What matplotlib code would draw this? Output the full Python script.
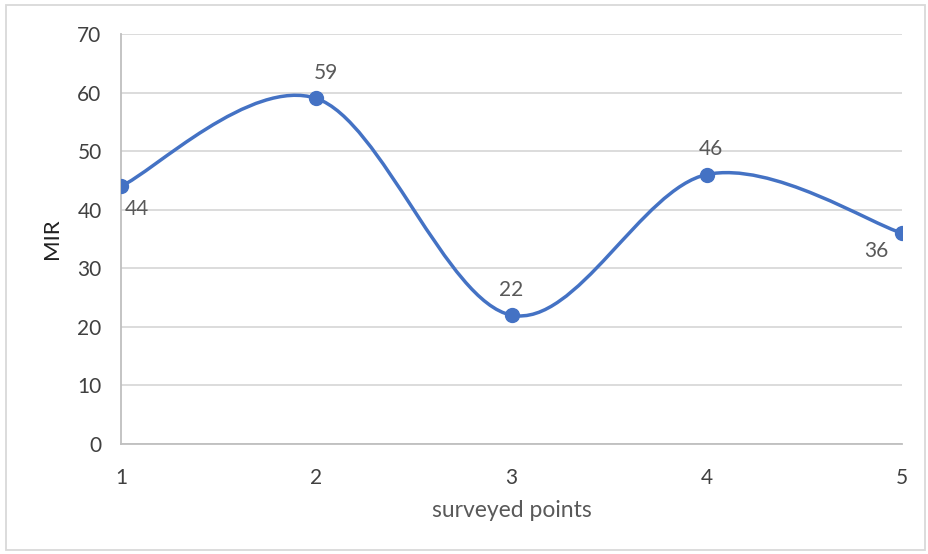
import numpy as np
import matplotlib
matplotlib.use("Agg")
import matplotlib.pyplot as plt
from matplotlib.path import Path
from matplotlib.patches import PathPatch, Rectangle

# --- данные ---
points = [1, 2, 3, 4, 5]
mir = [44, 59, 22, 46, 36]
yticks = [0, 10, 20, 30, 40, 50, 60, 70]

line_col = "#4472C4"
text_col = "#595959"

plt.rcParams["font.family"] = ["Lato", "DejaVu Sans"]

fig = plt.figure(figsize=(9.29, 5.54), dpi=100)
ax = fig.add_axes([121 / 929, 1 - 444 / 554, (902 - 121) / 929, (444 - 34) / 554])

# сглаженная линия как в Excel (Безье с коэффициентом 1/6)
x = np.array(points, dtype=float)
y = np.array(mir, dtype=float)
n = len(x)
verts = [(x[0], y[0])]
codes = [Path.MOVETO]
for i in range(n - 1):
    p0 = np.array([x[max(i - 1, 0)], y[max(i - 1, 0)]])
    p1 = np.array([x[i], y[i]])
    p2 = np.array([x[i + 1], y[i + 1]])
    p3 = np.array([x[min(i + 2, n - 1)], y[min(i + 2, n - 1)]])
    c1 = p1 + (p2 - p0) / 6
    c2 = p2 - (p3 - p1) / 6
    verts += [tuple(c1), tuple(c2), tuple(p2)]
    codes += [Path.CURVE4] * 3
ax.add_patch(PathPatch(Path(verts, codes), fill=False, edgecolor=line_col, lw=2.5,
                       capstyle="round", zorder=3))
ax.plot(points, mir, "o", color=line_col, ms=10, zorder=4)

# подписи значений: смещение в пунктах и выравнивание
label_style = [((3, -9), "left", "top"),
               ((7, 11), "center", "bottom"),
               ((0, 11), "center", "bottom"),
               ((3, 11), "center", "bottom"),
               ((-10, -6), "right", "top")]
for xi, yi, (off, ha, va) in zip(points, mir, label_style):
    ax.annotate(str(yi), (xi, yi), xytext=off, textcoords="offset points",
                ha=ha, va=va, fontsize=15, color=text_col)

ax.set_xlim(1, 5)
ax.set_ylim(0, 70)
ax.set_xticks(points)
ax.set_yticks(yticks)
ax.tick_params(length=0, labelsize=15, labelcolor="#404040")
ax.tick_params(axis="x", pad=17)
ax.tick_params(axis="y", pad=14)
ax.grid(axis="y", color="#D9D9D9", lw=1.3)
ax.set_axisbelow(True)
for s in ["top", "right"]:
    ax.spines[s].set_visible(False)
for s in ["left", "bottom"]:
    ax.spines[s].set_color("#BFBFBF")
    ax.spines[s].set_linewidth(1.3)

ax.set_xlabel("surveyed points", fontsize=16.5, color=text_col, labelpad=9)
ax.set_ylabel("MIR", fontsize=16, color="#202020", labelpad=11)

# рамка вокруг диаграммы
fig.patches.append(Rectangle((6 / 929, 4 / 554), 919 / 929, 545 / 554,
                             transform=fig.transFigure, fill=False,
                             edgecolor="#D9D9D9", lw=1.3))

fig.savefig("out.png", dpi=100)
